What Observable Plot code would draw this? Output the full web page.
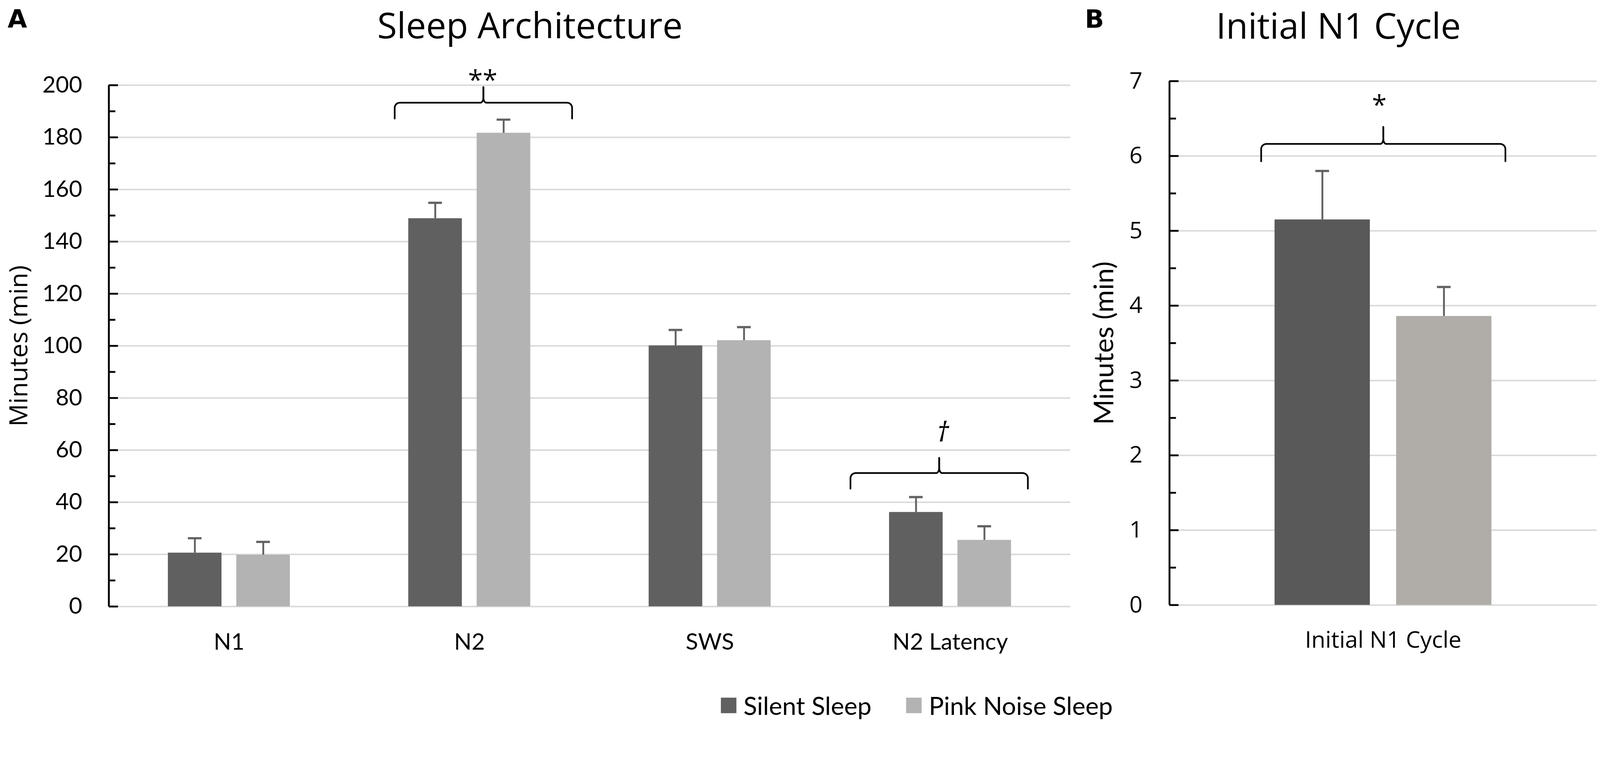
<!DOCTYPE html>
<html>
<head>
<meta charset="utf-8">
<script src="https://cdn.jsdelivr.net/npm/d3@7"></script>
<script src="https://cdn.jsdelivr.net/npm/@observablehq/plot@0.6"></script>
<style>
  html, body { margin: 0; padding: 0; background: #fff; overflow: hidden; }
  #root { position: relative; width: 4328px; height: 1948px; background: #fff; overflow: hidden; transform-origin: 0 0; }
  #pa, #pb, #lg { position: absolute; top: 0; }
  #pa { left: 0; width: 2900px; }
  #pb { left: 2900px; width: 1428px; }
  #lg { left: 1950px; top: 1867px; }
  #lg div, #lg span { font-family: Lato, sans-serif !important; font-size: 68px !important; color: #000; }
  #lg span { margin-right: 94px !important; }
  #lg span > svg { margin-right: 19px !important; }
</style>
</head>
<body>
<div id="root"><div id="pa"></div><div id="pb"></div><div id="lg"></div></div>
<script>
// ---------- data ----------
const seriesNames = ["Silent Sleep", "Pink Noise Sleep"];

const categoriesA = ["N1", "N2", "SWS", "N2 Latency"];
const silentA = [20.6, 148.9, 100.1, 36.2];
const pinkA = [19.8, 181.7, 102.1, 25.5];
const silentErrA = [5.6, 6.0, 6.0, 5.8];
const pinkErrA = [5.0, 5.1, 5.1, 5.3];
const yTicksA = [0, 20, 40, 60, 80, 100, 120, 140, 160, 180, 200];
const yMinorA = [10, 30, 50, 70, 90, 110, 130, 150, 170, 190];

const categoriesB = ["Initial N1 Cycle"];
const silentB = [5.15];
const pinkB = [3.86];
const silentErrB = [0.65];
const pinkErrB = [0.39];
const yTicksB = [0, 1, 2, 3, 4, 5, 6, 7];
const yMinorB = [0.5, 1.5, 2.5, 3.5, 4.5, 5.5, 6.5];

// significance brackets (data units)
const bracketsA = [
  {x1: 1.189, x2: 1.927, yEnd: 187.2, yH: 193.3, yPeak: 199.3, label: "**", lx: 1.555, ly: 198.4, italic: false},
  {x1: 3.085, x2: 3.823, yEnd: 45.2, yH: 51.2, yPeak: 57.0, label: "\u2020", lx: 3.469, ly: 63.3, italic: true}
];
const bracketsB = [
  {x1: 0.2145, x2: 0.786, yEnd: 5.929, yH: 6.161, yPeak: 6.388, label: "*", lx: 0.491, ly: 6.554, italic: false}
];

// ---------- layout constants ----------
const BAR = 0.223, GAP = 0.0615; // fraction of category band
const H = 1948;

function rows(cats, s, p, se, pe) {
  return cats.flatMap((c, i) => [
    {cat: c, i, k: 0, series: seriesNames[0], value: s[i], err: se[i]},
    {cat: c, i, k: 1, series: seriesNames[1], value: p[i], err: pe[i]}
  ]);
}
const cx = d => d.i + 0.5 + (d.k === 0 ? -1 : 1) * (GAP / 2 + BAR / 2);

function bracePoints(list, kx, ky) {
  const out = [];
  const n = 10;
  list.forEach((b, j) => {
    const xc = (b.x1 + b.x2) / 2;
    const rx = 14 * kx, ry = 14 * ky, cxr = 8 * kx, cyr = 14 * ky;
    const half = [];
    half.push([b.x1, b.yEnd]);
    for (let q = 0; q <= n; q++) {
      const t = q / n * Math.PI / 2;
      half.push([b.x1 + rx * (1 - Math.cos(t)), b.yH - ry + ry * Math.sin(t)]);
    }
    for (let q = 0; q <= n; q++) {
      const t = q / n * Math.PI / 2;
      half.push([xc - cxr + cxr * Math.sin(t), b.yH + cyr - cyr * Math.cos(t)]);
    }
    half.push([xc, b.yPeak]);
    half.forEach(([x, y]) => out.push({id: j + "L", x, y}));
    half.forEach(([x, y]) => out.push({id: j + "R", x: 2 * xc - x, y}));
  });
  return out;
}

function panel(cfg) {
  const {W, m, cats, data, yDomain, yTicks, yMinor, colors, brackets, tickFont, xPad, yPad, yFormat,
         title, titleX, titleBase, titleSize, letter, letterX, ylabel, ylabelX, ylabelFont, ylabelSize, fontSize, daggerSize} = cfg;
  const kx = cats.length / (W - m.left - m.right);
  const ky = (yDomain[1] - yDomain[0]) / (H - m.top - m.bottom);
  const braces = bracePoints(brackets, kx, ky);
  const errColor = "#626262";
  return Plot.plot({
    width: W, height: H,
    marginLeft: m.left, marginRight: m.right, marginTop: m.top, marginBottom: m.bottom,
    style: {fontFamily: tickFont, fontSize: fontSize + "px", background: "white", color: "black"},
    x: {domain: [0, cats.length], ticks: cats.map((_, i) => i + 0.5), tickFormat: v => cats[Math.floor(v)],
        tickSize: 0, tickPadding: xPad, label: null},
    y: {domain: yDomain, ticks: yTicks, tickFormat: yFormat, tickSize: 0, tickPadding: yPad, label: null},
    color: {domain: seriesNames, range: colors},
    marks: [
      Plot.ruleY(yTicks, {y: d => d, stroke: "#d9d9d9", strokeWidth: 4}),
      Plot.rect(data, {x1: d => cx(d) - BAR / 2, x2: d => cx(d) + BAR / 2, y1: 0, y2: "value", fill: "series"}),
      Plot.ruleX(data, {x: cx, y1: "value", y2: d => d.value + d.err, stroke: errColor, strokeWidth: 5}),
      Plot.ruleY(data, {y: d => d.value + d.err, x1: d => cx(d) - 18.5 * kx, x2: d => cx(d) + 18.5 * kx, stroke: errColor, strokeWidth: 6}),
      Plot.ruleX([0], {x: d => d, stroke: "black", strokeWidth: 5}),
      Plot.ruleY(yTicks, {y: d => d, x1: 0, x2: 25 * kx, stroke: "black", strokeWidth: 5}),
      Plot.ruleY(yMinor, {y: d => d, x1: 0, x2: 18 * kx, stroke: "black", strokeWidth: 5}),
      Plot.line(braces, {x: "x", y: "y", z: "id", stroke: "black", strokeWidth: 4.5, curve: "linear", strokeLinejoin: "round"}),
      Plot.text(brackets.filter(b => !b.italic), {x: "lx", y: "ly", text: "label", lineAnchor: "bottom", fontFamily: "Open Sans", fontSize: 72}),
      Plot.text(brackets.filter(b => b.italic), {x: "lx", y: "ly", text: "label", lineAnchor: "bottom", fontFamily: "Open Sans", fontStyle: "italic", fontSize: daggerSize || 72}),
      Plot.text([title], {text: d => d, frameAnchor: "top-left", dx: titleX - m.left, dy: titleBase - m.top,
        lineAnchor: "bottom", textAnchor: "middle", fontFamily: "Open Sans", fontSize: titleSize}),
      Plot.text([letter], {text: d => d, frameAnchor: "top-left", dx: letterX - m.left, dy: 74 - m.top,
        lineAnchor: "bottom", textAnchor: "start", fontFamily: "DejaVu Sans", fontWeight: "bold", fontSize: 68}),
      Plot.text([ylabel], {text: d => d, frameAnchor: "left", dx: ylabelX - m.left, rotate: -90,
        lineAnchor: "middle", textAnchor: "middle", fontFamily: ylabelFont, fontSize: ylabelSize})
    ]
  });
}

const dataA = rows(categoriesA, silentA, pinkA, silentErrA, pinkErrA);
const dataB = rows(categoriesB, silentB, pinkB, silentErrB, pinkErrB);

const plotA = panel({
  W: 2900, m: {left: 294, right: 5, top: 230, bottom: 308},
  cats: categoriesA, data: dataA, yDomain: [0, 200], yTicks: yTicksA, yMinor: yMinorA, yFormat: d => String(d),
  colors: ["#606060", "#b3b3b3"], brackets: bracketsA, tickFont: "Lato", fontSize: 62,
  xPad: 73, yPad: 72, daggerSize: 74,
  title: "Sleep Architecture", titleX: 1433, titleBase: 103, titleSize: 97,
  letter: "A", letterX: 20,
  ylabel: "Minutes (min)", ylabelX: 52, ylabelFont: "Open Sans", ylabelSize: 68
});

const plotB = panel({
  W: 1428, m: {left: 263, right: 9, top: 219, bottom: 312},
  cats: categoriesB, data: dataB, yDomain: [0, 7], yTicks: yTicksB, yMinor: yMinorB, yFormat: d => String(d),
  colors: ["#595959", "#b0ada9"], brackets: bracketsB, tickFont: "Open Sans", fontSize: 62,
  xPad: 71, yPad: 73,
  title: "Initial N1 Cycle", titleX: 720, titleBase: 104, titleSize: 97,
  letter: "B", letterX: 34,
  ylabel: "Minutes (min)", ylabelX: 87, ylabelFont: "Lato", ylabelSize: 74
});

document.getElementById("pa").appendChild(plotA);
document.getElementById("pb").appendChild(plotB);

const legend = plotA.legend("color", {swatchSize: 42, className: "lg"});
document.getElementById("lg").appendChild(legend);

// fit the 4328×1948 figure to the actual viewport
const root = document.getElementById("root");
function fit() {
  const s = Math.min(window.innerWidth / 4328, window.innerHeight / 1948);
  root.style.transform = s > 0 && Math.abs(s - 1) > 0.001 ? `scale(${s})` : "";
}
fit();
window.addEventListener("resize", fit);
</script>
</body>
</html>
